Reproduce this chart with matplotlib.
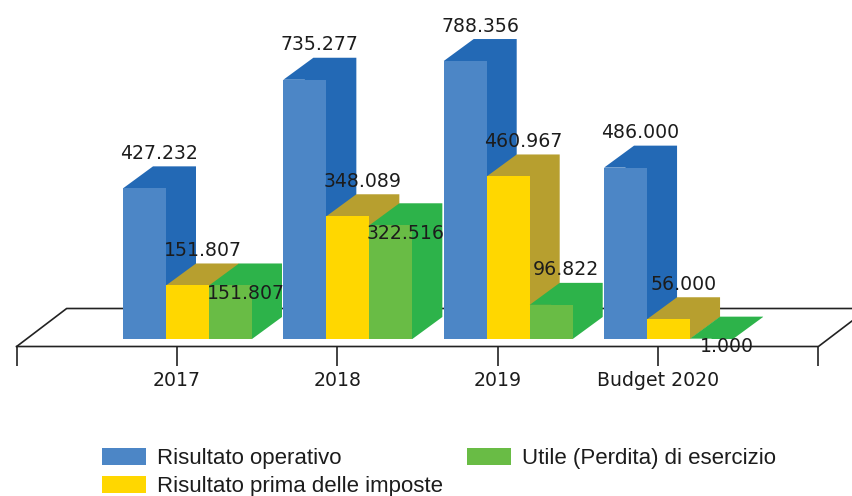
import matplotlib
matplotlib.use("Agg")
import matplotlib.pyplot as plt
from matplotlib.patches import Polygon, Patch

categories = ["2017", "2018", "2019", "Budget 2020"]
risultato_operativo = [427232, 735277, 788356, 486000]
risultato_ante_imposte = [151807, 348089, 460967, 56000]
utile_esercizio = [151807, 322516, 96822, 1000]
series_names = ["Risultato operativo", "Risultato prima delle imposte", "Utile (Perdita) di esercizio"]

W, H = 852, 496
PX_CAT = 160.35      # pixels per category
PX_VAL = 0.3526e-3   # pixels per unit of value
X0_PX, Y0_PX = 177, 339

fig = plt.figure(figsize=(W / 100, H / 100), dpi=100, facecolor="white")
ax = fig.add_axes([0, 0, 1, 1])
ax.set_xlim((0 - X0_PX) / PX_CAT, (W - X0_PX) / PX_CAT)
ax.set_ylim((Y0_PX - H) / PX_VAL, Y0_PX / PX_VAL)
ax.axis("off")

px = 1 / PX_CAT
py = 1 / PX_VAL
depth_x, depth_y = 30 * px, 22 * py
bar_w = 43 * px
left_off = -54 * px

front = ["#4C86C6", "#FFD700", "#69BC45"]
side = ["#2369B5", "#B79F2F", "#2DB34A"]
ink = "#1c1c1c"

# floor
axis_y = -7.5 * py
n = len(categories)
floor_dx, floor_dy = 50 * px, 38 * py
ax.plot([-1, -1 + floor_dx, n + floor_dx], [axis_y, axis_y + floor_dy, axis_y + floor_dy],
        color="#222222", lw=1.2, zorder=1)
ax.plot([-1, n, n + floor_dx], [axis_y, axis_y, axis_y + floor_dy],
        color="#222222", lw=1.2, zorder=1)
ticks = [-1] + list(range(n)) + [n]
ax.vlines(ticks, axis_y - 19 * py, axis_y, color="#222222", lw=1.2, zorder=1)
for i, c in enumerate(categories):
    ax.text(i, -41 * py, c, ha="center", va="center", fontsize=13.6,
            family="DejaVu Sans", color=ink, zorder=20)

# bars: the dark outline runs under the front face, so no seam shows between them
all_series = [risultato_operativo, risultato_ante_imposte, utile_esercizio]
z = 2
for i in range(n):
    for s, vals in enumerate(all_series):
        v = vals[i]
        x0 = i + left_off + s * bar_w
        x1 = x0 + bar_w
        inner = x0 + bar_w * 0.5
        ax.add_patch(Polygon([(inner, 0), (x1, 0), (x1 + depth_x, depth_y), (x1 + depth_x, v + depth_y),
                              (x0 + depth_x, v + depth_y), (x0, v), (inner, v)],
                             fc=side[s], ec="none", zorder=z))
        ax.add_patch(Polygon([(x0, 0), (x1, 0), (x1, v), (x0, v)],
                             fc=front[s], ec="none", zorder=z + 0.5))
        z += 1

# value labels (some of the green ones sit below the bar top in the original)
inside_labels = {(2, 0), (2, 1), (2, 3)}
for i in range(n):
    for s, vals in enumerate(all_series):
        v = vals[i]
        x = i + left_off + s * bar_w + bar_w / 2 + 15 * px
        off = 22 * py + (-30 * py if (s, i) in inside_labels else 13 * py)
        label = f"{v:,}".replace(",", ".")
        ax.text(x, v + off, label, ha="center", va="center", fontsize=13.6,
                family="DejaVu Sans", color=ink, zorder=30)

# legend
handles = [Patch(fc=front[k], ec="none", label=series_names[k]) for k in range(3)]
ax.legend(handles=handles, ncol=2, loc="upper left",
          bbox_to_anchor=(102 / W, 1 - 448 / H), bbox_transform=fig.transFigure,
          frameon=False, borderpad=0, borderaxespad=0,
          prop={"family": "Liberation Sans", "size": 16},
          handlelength=1.98, handleheight=0.81, handletextpad=0.5,
          labelspacing=0.31, columnspacing=1.08, labelcolor=ink)

fig.savefig("out.png", dpi=100, facecolor="white")
